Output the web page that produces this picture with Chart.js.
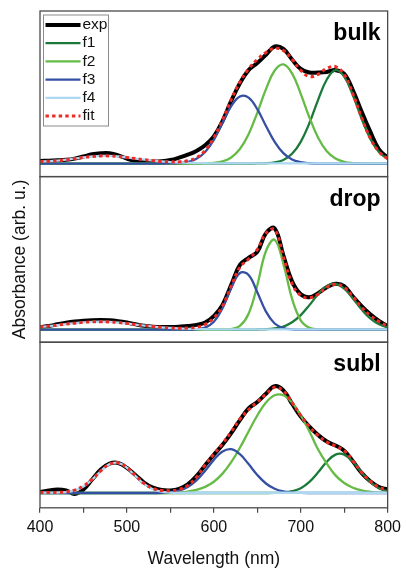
<!DOCTYPE html>
<html>
<head>
<meta charset="utf-8">
<script src="https://cdn.jsdelivr.net/npm/chart.js@4.4.0/dist/chart.umd.min.js"></script>
<style>
    html, body { margin: 0; padding: 0; background: #fff; }
</style>
</head>
<body>
<canvas id="spectra" width="406" height="571"></canvas>
<script>
// wavelength grid (nm)
let wavelengths = [400, 410, 420, 430, 440, 450, 460, 470, 480, 490, 500, 510, 520, 530, 540, 550, 560, 570, 580, 590,
    600, 610, 620, 630, 640, 650, 660, 670, 680, 690, 700, 710, 720, 730, 740, 750, 760, 770, 780, 790, 800];

let seriesNames = ['exp', 'f1', 'f2', 'f3', 'f4', 'fit'];
let panelNames = ['bulk', 'drop', 'subl'];

// bulk
let bulkExp = [.022, .025, .028, .032, .042, .06, .079, .087, .087, .07, .042, .022, .017, .017, .02, .03, .05, .075, .107, .155,
    .23, .36, .53, .68, .79, .85, .92, .99, .97, .88, .8, .77, .77, .775, .79, .76, .62, .44, .27, .12, .05];
let bulkF1 = [0, 0, 0, 0, 0, 0, 0, 0, 0, 0, 0, 0, 0, 0, 0, 0, 0, 0, 0, 0,
    0, 0, 0, 0, 0, .001, .003, .01, .031, .083, .184, .343, .539, .711, .79, .736, .578, .381, .211, .098, .038];
let bulkF2 = [0, 0, 0, 0, 0, 0, 0, 0, 0, 0, 0, 0, 0, 0, 0, 0, 0, 0, 0, .002,
    .006, .019, .052, .123, .249, .429, .629, .787, .839, .763, .59, .39, .219, .105, .043, .015, .004, .001, 0, 0, 0];
let bulkF3 = [0, 0, 0, 0, 0, 0, 0, 0, 0, 0, 0, 0, 0, 0, 0, .001, .004, .014, .04, .098,
    .2, .345, .485, .567, .558, .46, .318, .184, .088, .035, .012, .003, 0, 0, 0, 0, 0, 0, 0, 0, 0];
let bulkF4 = [.017, .02, .025, .033, .042, .052, .06, .065, .065, .06, .052, .042, .033, .025, .018, .013, .009, .006, .004, .003,
    .002, .002, .002, .002, .002, .002, .002, .002, .002, .002, .002, .002, .002, .002, .002, .002, .002, .002, .002, .002, .002];
let bulkFit = [.017, .02, .025, .033, .042, .052, .06, .065, .065, .06, .052, .042, .033, .025, .018, .015, .015, .024, .05, .11,
    .22, .37, .54, .69, .8, .88, .94, .975, .956, .882, .788, .735, .755, .805, .82, .753, .59, .39, .215, .1, .04];

// drop
let dropExp = [.022, .03, .045, .058, .068, .075, .08, .082, .08, .072, .06, .045, .032, .025, .022, .022, .025, .03, .04, .06,
    .115, .21, .38, .55, .61, .66, .82, .86, .63, .41, .3, .275, .31, .36, .39, .37, .28, .2, .13, .073, .03];
let dropF1 = [0, 0, 0, 0, 0, 0, 0, 0, 0, 0, 0, 0, 0, 0, 0, 0, 0, 0, 0, 0,
    0, 0, 0, 0, 0, .001, .003, .01, .026, .062, .123, .208, .301, .371, .389, .348, .265, .172, .095, .045, .018];
let dropF2 = [0, 0, 0, 0, 0, 0, 0, 0, 0, 0, 0, 0, 0, 0, 0, 0, 0, 0, 0, 0,
    0, 0, .005, .031, .135, .375, .668, .763, .559, .263, .079, .015, .002, 0, 0, 0, 0, 0, 0, 0, 0];
let dropF3 = [0, 0, 0, 0, 0, 0, 0, 0, 0, 0, 0, 0, 0, 0, 0, 0, 0, 0, .003, .017,
    .067, .182, .352, .481, .464, .317, .153, .052, .013, .002, 0, 0, 0, 0, 0, 0, 0, 0, 0, 0, 0];
let dropF4 = [.022, .03, .038, .047, .055, .062, .066, .067, .065, .06, .053, .043, .034, .026, .019, .014, .01, .007, .005, .003,
    .002, .002, .002, .002, .002, .002, .002, .002, .002, .002, .002, .002, .002, .002, .002, .002, .002, .002, .002, .002, .002];
let dropFit = [.022, .03, .038, .047, .055, .062, .066, .067, .065, .06, .053, .043, .034, .026, .019, .014, .012, .013, .02, .045,
    .1, .2, .37, .53, .6, .68, .82, .85, .62, .39, .29, .27, .3, .36, .385, .36, .28, .19, .12, .068, .028];

// subl
let sublExp = [.008, .022, .03, .022, -.008, .03, .115, .2, .25, .256, .213, .152, .087, .045, .025, .022, .035, .073, .143, .236,
    .326, .41, .51, .62, .72, .775, .845, .91, .874, .76, .65, .565, .494, .438, .404, .36, .27, .171, .1, .05, .03];
let sublF1 = [0, 0, 0, 0, 0, 0, 0, 0, 0, 0, 0, 0, 0, 0, 0, 0, 0, 0, 0, 0,
    0, 0, 0, 0, 0, 0, 0, .001, .004, .015, .041, .095, .176, .266, .327, .327, .266, .176, .095, .041, .015];
let sublF2 = [0, 0, 0, 0, 0, 0, 0, 0, 0, 0, 0, 0, 0, 0, 0, .002, .005, .012, .026, .052,
    .096, .165, .262, .385, .524, .66, .77, .832, .832, .77, .66, .524, .37, .25, .15, .085, .045, .022, .01, .004, .002];
let sublF3 = [0, 0, 0, 0, 0, 0, 0, 0, 0, 0, 0, 0, 0, 0, .002, .007, .02, .051, .107, .189,
    .282, .354, .373, .33, .246, .154, .081, .036, .013, .004, .001, 0, 0, 0, 0, 0, 0, 0, 0, 0, 0];
let sublF4 = [.003, .003, .004, .008, .022, .055, .114, .187, .246, .257, .215, .143, .076, .032, .011, .004, .002, .002, .002, .002,
    .002, .002, .002, .002, .002, .002, .002, .002, .002, .002, .002, .002, .002, .002, .002, .002, .002, .002, .002, .002, .002];
let sublFit = [.004, .004, .005, .01, .025, .06, .115, .19, .245, .258, .218, .148, .08, .038, .022, .02, .03, .065, .135, .24,
    .33, .42, .52, .63, .71, .775, .84, .9, .87, .77, .66, .565, .49, .435, .4, .36, .275, .175, .1, .05, .025];

let panelSeries = [
    [bulkExp, bulkF1, bulkF2, bulkF3, bulkF4, bulkFit],
    [dropExp, dropF1, dropF2, dropF3, dropF4, dropFit],
    [sublExp, sublF1, sublF2, sublF3, sublF4, sublFit]
];
let panelAxes = ['yBulk', 'yDrop', 'ySubl'];
let panelRanges = [[-0.11, 1.29], [-0.107, 1.30], [-0.126, 1.284]];

let seriesColors = ['#000000', '#1b7a3a', '#66bb46', '#3550a3', '#acd8f2', '#ee2a24'];
let seriesWidths = [4, 2.3, 2.3, 2.3, 2.3, 3];
let seriesDashes = [[], [], [], [], [], [3.4, 3.2]];

const FONT = '"Liberation Sans", Arial, Helvetica, sans-serif';

let datasets = [];
panelSeries.forEach((series, p) => {
    series.forEach((values, s) => {
        datasets.push({
            label: seriesNames[s],
            data: wavelengths.map((w, i) => ({x: w, y: values[i]})),
            yAxisID: panelAxes[p],
            borderColor: seriesColors[s],
            backgroundColor: seriesColors[s],
            borderWidth: seriesWidths[s],
            borderDash: seriesDashes[s],
            pointRadius: 0,
            tension: 0.4,
            fill: false,
            order: 10 - s
        });
    });
});

// frames, panel names and the legend box
const panelDecor = {
    id: 'panelDecor',
    afterDatasetsDraw(chart) {
        let ctx = chart.ctx;
        let area = chart.chartArea;
        ctx.save();

        ctx.strokeStyle = '#4a4a4a';
        ctx.lineWidth = 1.3;
        panelAxes.forEach(id => {
            let s = chart.scales[id];
            ctx.strokeRect(area.left, s.top, area.right - area.left, s.bottom - s.top);
        });

        ctx.fillStyle = '#000';
        ctx.font = 'bold 23px ' + FONT;
        ctx.textAlign = 'right';
        ctx.textBaseline = 'alphabetic';
        panelAxes.forEach((id, i) => {
            ctx.fillText(panelNames[i], area.right - 7, chart.scales[id].top + 29);
        });

        let top = chart.scales[panelAxes[0]].top;
        let bx = area.left + 3.5, by = top + 4;
        ctx.strokeStyle = '#8c8c8c';
        ctx.lineWidth = 1;
        ctx.strokeRect(bx, by, 65, 111);
        ctx.font = '15.5px ' + FONT;
        ctx.textAlign = 'left';
        ctx.textBaseline = 'middle';
        seriesNames.forEach((name, s) => {
            let y = by + 10 + s * 18.2;
            ctx.beginPath();
            ctx.strokeStyle = seriesColors[s];
            ctx.lineWidth = seriesWidths[s];
            ctx.setLineDash(seriesDashes[s]);
            ctx.moveTo(bx + 2, y);
            ctx.lineTo(bx + 37, y);
            ctx.stroke();
            ctx.setLineDash([]);
            ctx.fillStyle = '#111';
            ctx.fillText(name, bx + 39, y);
        });
        ctx.restore();
    }
};

let yScale = (i) => ({
    type: 'linear',
    position: 'left',
    stack: 'panels',
    stackWeight: 1,
    weight: 3 - i,
    min: panelRanges[i][0],
    max: panelRanges[i][1],
    ticks: {display: false},
    grid: {display: false, drawTicks: false},
    border: {display: false},
    title: {
        display: i === 1,
        text: 'Absorbance (arb. u.)',
        color: '#111',
        font: {size: 17.5, family: FONT},
        padding: {top: 1, bottom: 9}
    }
});

let ctx = document.getElementById('spectra').getContext('2d');
new Chart(ctx, {
    type: 'line',
    data: {datasets: datasets},
    options: {
        responsive: false,
        animation: false,
        devicePixelRatio: 1,
        layout: {padding: {top: 11, right: 14, left: 9, bottom: 0}},
        plugins: {
            legend: {display: false},
            tooltip: {enabled: false}
        },
        scales: {
            x: {
                type: 'linear',
                position: 'bottom',
                min: 400,
                max: 800,
                ticks: {
                    stepSize: 50,
                    autoSkip: false,
                    maxRotation: 0,
                    padding: 5,
                    color: '#111',
                    font: {size: 16, family: FONT},
                    callback: v => (v % 100 === 0 ? v : '')
                },
                grid: {drawOnChartArea: false, drawTicks: true, tickLength: 5, color: '#4a4a4a', lineWidth: 1.2},
                border: {display: false},
                title: {
                    display: true,
                    text: 'Wavelength (nm)',
                    color: '#111',
                    font: {size: 17.5, family: FONT},
                    padding: {top: 7, bottom: 1}
                }
            },
            yBulk: yScale(0),
            yDrop: yScale(1),
            ySubl: yScale(2)
        }
    },
    plugins: [panelDecor]
});
</script>
</body>
</html>
